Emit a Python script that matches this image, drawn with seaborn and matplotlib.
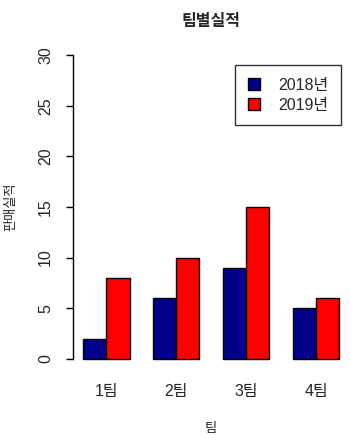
import pandas as pd
import matplotlib
matplotlib.use("Agg")
import matplotlib.pyplot as plt
import seaborn as sns

teams = ["1팀", "2팀", "3팀", "4팀"]
years = ["2018년", "2019년"]
sales_2018 = [2, 6, 9, 5]
sales_2019 = [8, 10, 15, 6]
colors = ["#00008B", "#FF0000"]

df = pd.DataFrame({
    "팀": teams * 2,
    "연도": [years[0]] * 4 + [years[1]] * 4,
    "판매실적": sales_2018 + sales_2019,
})

sns.set_style("white")
plt.rcParams["font.family"] = ["Liberation Sans", "Noto Sans CJK KR"]

fig = plt.figure(figsize=(3.51, 4.38), dpi=100)
ax = fig.add_axes([0.207, 0.153, 0.789, 0.749])

sns.barplot(data=df, x="팀", y="판매실적", hue="연도", palette=colors,
            width=2 / 3, edgecolor="black", linewidth=1, saturation=1, ax=ax)

ax.set_xlim(-0.48, 3.48)
ax.set_ylim(-1.2, 31.2)
ax.set_yticks([0, 5, 10, 15, 20, 25, 30])
for s in ["top", "right", "bottom"]:
    ax.spines[s].set_visible(False)
ax.spines["left"].set_bounds(0, 30)
ax.spines["left"].set_color("black")
ax.spines["left"].set_linewidth(1)

ax.tick_params(axis="y", left=True, length=5, width=1, color="black",
               labelsize=11.5, pad=9)
ax.tick_params(axis="x", bottom=False, labelsize=11.5, pad=6)
for lab in ax.get_yticklabels():
    lab.set_rotation(90)
    lab.set_va("center")

ax.set_xlabel("팀", fontsize=9.5, labelpad=17)
ax.set_ylabel("판매실적", fontsize=9.5, labelpad=15)
ax.set_title("팀별실적", fontsize=11.5, fontweight="bold", pad=12)

leg = ax.legend(loc="upper right", bbox_to_anchor=(0.9715, 0.8516),
                bbox_transform=fig.transFigure, borderaxespad=0,
                fontsize=11.5, frameon=True, fancybox=False,
                edgecolor="black", handlelength=0.8, handleheight=0.8,
                borderpad=0.8, labelspacing=0.3, handletextpad=1.1,
                title=None)
leg.get_frame().set_linewidth(1)

fig.savefig("out.png", dpi=100)
